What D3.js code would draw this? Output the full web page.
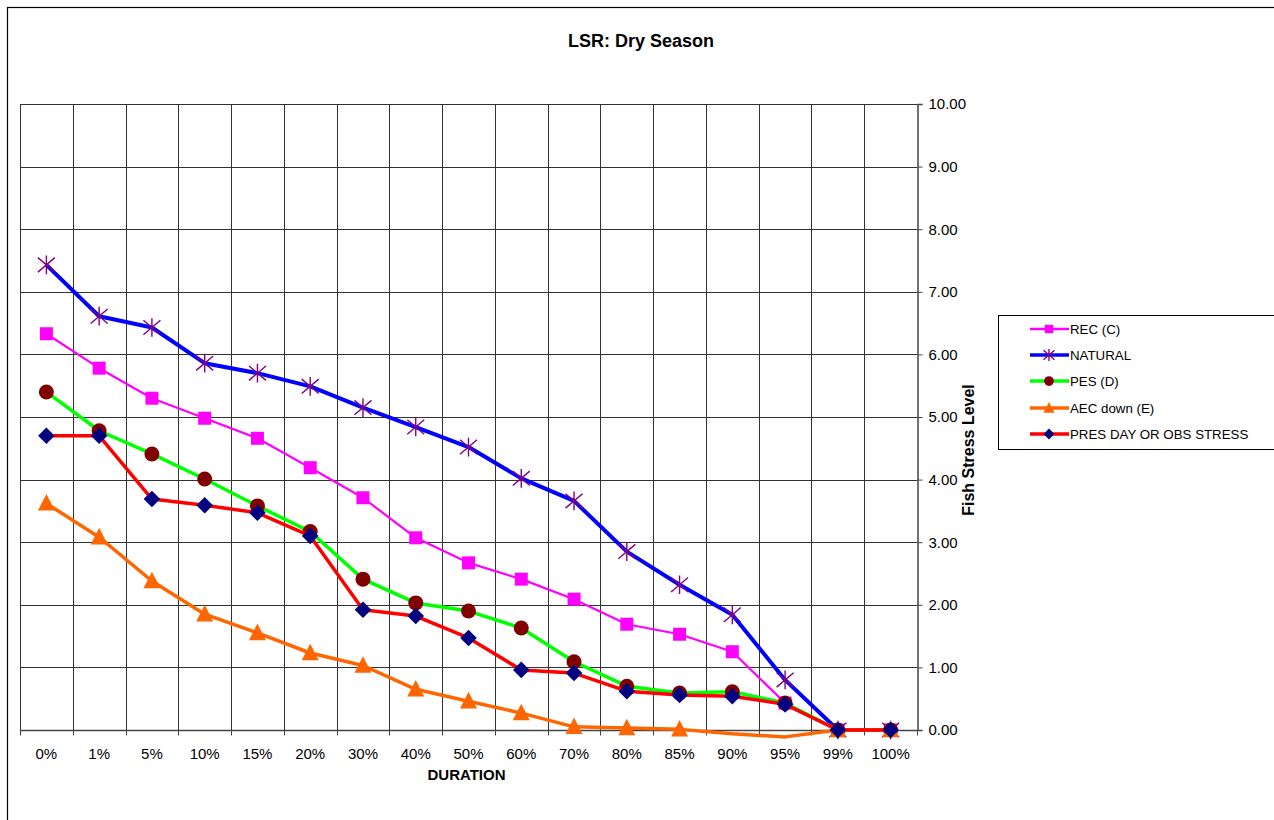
<!DOCTYPE html>
<html>
<head>
<meta charset="utf-8">
<script src="https://cdn.jsdelivr.net/npm/d3@7"></script>
<style>
body{margin:0;background:#fff;}
svg{display:block;font-family:"Liberation Sans",Arial,sans-serif;}
</style>
</head>
<body>
<svg id="chart" width="1274" height="820"></svg>
<script>
const categories = ["0%","1%","5%","10%","15%","20%","30%","40%","50%","60%","70%","80%","85%","90%","95%","99%","100%"];
const recC    = [6.33,5.78,5.30,4.98,4.66,4.19,3.71,3.07,2.67,2.41,2.09,1.69,1.53,1.25,0.43,0,0];
const natural = [7.43,6.61,6.43,5.86,5.70,5.49,5.15,4.84,4.52,4.02,3.66,2.85,2.32,1.84,0.80,0,0];
const pesD    = [5.40,4.78,4.41,4.01,3.58,3.17,2.41,2.03,1.90,1.63,1.09,0.70,0.59,0.61,0.43,0,0];
const aecE    = [3.62,3.08,2.38,1.85,1.55,1.23,1.03,0.65,0.46,0.27,0.05,0.03,0.01,-0.06,-0.11,0,0];
const presDay = [4.70,4.70,3.69,3.59,3.47,3.10,1.92,1.82,1.47,0.96,0.91,0.62,0.56,0.54,0.41,0,0];
const yTicks = [0,1,2,3,4,5,6,7,8,9,10];

const series = [
  {name:"REC (C)", values:recC, line:"#FF00FF", lw:2.2, marker:"square", mfill:"#FF00FF"},
  {name:"NATURAL", values:natural, line:"#0000FF", lw:4, marker:"star", mfill:"#800080"},
  {name:"PES (D)", values:pesD, line:"#00FF00", lw:3.5, marker:"circle", mfill:"#800000"},
  {name:"AEC down (E)", values:aecE, line:"#FF6600", lw:3.5, marker:"triangle", mfill:"#FF6600"},
  {name:"PRES DAY OR OBS STRESS", values:presDay, line:"#FF0000", lw:3.5, marker:"diamond", mfill:"#000080"}
];

const svg = d3.select("#chart");
const L=20, R=917, T=104, B=730;

// outer border
svg.append("rect").attr("x",7.5).attr("y",7.5).attr("width",1300).attr("height",900)
  .attr("fill","none").attr("stroke","#000").attr("stroke-width",1.2);

const x = d3.scaleBand().domain(categories).range([L,R]).padding(0);
const y = d3.scaleLinear().domain([0,10]).range([B,T]);

// gridlines
const g = svg.append("g");
g.selectAll("line.h").data(yTicks).join("line")
  .attr("x1",L).attr("x2",R).attr("y1",d=>Math.round(y(d))+0.5).attr("y2",d=>Math.round(y(d))+0.5)
  .attr("stroke","#333").attr("stroke-width",1);
const bounds = categories.map(c=>x(c));
g.selectAll("line.v").data(bounds).join("line")
  .attr("x1",d=>Math.round(d)+0.5).attr("x2",d=>Math.round(d)+0.5).attr("y1",T).attr("y2",B)
  .attr("stroke","#333").attr("stroke-width",1);

// right axis
const yAxis = d3.axisRight(y).tickValues(yTicks).tickFormat(d3.format(".2f")).tickSize(5).tickPadding(6);
const ya = svg.append("g").attr("transform",`translate(${R+0.5},0)`).call(yAxis);
ya.select(".domain").attr("stroke","#444").attr("stroke-width",1.5);
ya.selectAll(".tick line").attr("stroke","#444");
ya.selectAll("text").attr("font-size",15).attr("fill","#000").attr("font-family","Liberation Sans, Arial, sans-serif");

// bottom axis
const xa = svg.append("g").attr("transform",`translate(0,${B+0.5})`);
xa.append("line").attr("x1",L).attr("x2",R).attr("stroke","#444").attr("stroke-width",1.5);
xa.selectAll("line.t").data(bounds.concat([R])).join("line")
  .attr("x1",d=>Math.round(d)+0.5).attr("x2",d=>Math.round(d)+0.5).attr("y1",0).attr("y2",5).attr("stroke","#444");
xa.selectAll("text").data(categories).join("text")
  .attr("x",d=>x(d)+x.bandwidth()/2).attr("y",28).attr("text-anchor","middle")
  .attr("font-size",15).text(d=>d);

// titles
svg.append("text").attr("x",641).attr("y",47).attr("text-anchor","middle")
  .attr("font-size",18).attr("font-weight","bold").text("LSR: Dry Season");
svg.append("text").attr("x",(L+R)/2-2).attr("y",780).attr("text-anchor","middle")
  .attr("font-size",15).attr("font-weight","bold").text("DURATION");
svg.append("text").attr("transform",`translate(974,450) rotate(-90)`).attr("text-anchor","middle")
  .attr("font-size",16).attr("font-weight","bold").text("Fish Stress Level");

function drawMarker(sel, type, fill, s){
  s = s||1;
  if(type==="square"){
    sel.append("rect").attr("x",-6.5*s).attr("y",-6.5*s).attr("width",13*s).attr("height",13*s).attr("fill",fill);
  } else if(type==="circle"){
    sel.append("circle").attr("r",7.5*s).attr("fill",fill);
  } else if(type==="diamond"){
    const r=8.3*s;
    sel.append("path").attr("d",`M0,${-r}L${r},0L0,${r}L${-r},0Z`).attr("fill",fill);
  } else if(type==="triangle"){
    const r=8.5*s;
    sel.append("path").attr("d",`M0,${-r*1.1}L${r},${r*0.85}L${-r},${r*0.85}Z`).attr("fill",fill);
  } else if(type==="star"){
    const r=8.5*s;
    const p = `M${-r},${-r*0.85}L${r},${r*0.85}M${r},${-r*0.85}L${-r},${r*0.85}M0,${-r*1.1}L0,${r*1.1}`;
    sel.append("path").attr("d",p).attr("stroke",fill).attr("stroke-width",1.4).attr("fill","none");
  }
}

const line = d3.line().x((d,i)=>x(categories[i])+x.bandwidth()/2).y(d=>y(d));
series.forEach(s=>{
  svg.append("path").datum(s.values).attr("d",line).attr("fill","none")
    .attr("stroke",s.line).attr("stroke-width",s.lw).attr("stroke-linejoin","round");
  s.values.forEach((v,i)=>{
    if(v<0) return;
    const m = svg.append("g").attr("transform",`translate(${x(categories[i])+x.bandwidth()/2},${y(v)})`);
    drawMarker(m, s.marker, s.mfill, 1);
  });
});

// legend
const lg = svg.append("g");
lg.append("rect").attr("x",998.5).attr("y",315.5).attr("width",300).attr("height",134)
  .attr("fill","#fff").attr("stroke","#000").attr("stroke-width",1);
const ly = [329,355,381,408,434];
series.forEach((s,i)=>{
  const gg = lg.append("g").attr("transform",`translate(0,${ly[i]})`);
  gg.append("line").attr("x1",1030).attr("x2",1069).attr("stroke",s.line).attr("stroke-width",s.lw>3?3.5:2.5);
  const m = gg.append("g").attr("transform","translate(1049,0)");
  drawMarker(m, s.marker, s.mfill, 0.65);
  gg.append("text").attr("x",1070).attr("y",5).attr("font-size",13.3).text(s.name);
});
</script>
</body>
</html>
